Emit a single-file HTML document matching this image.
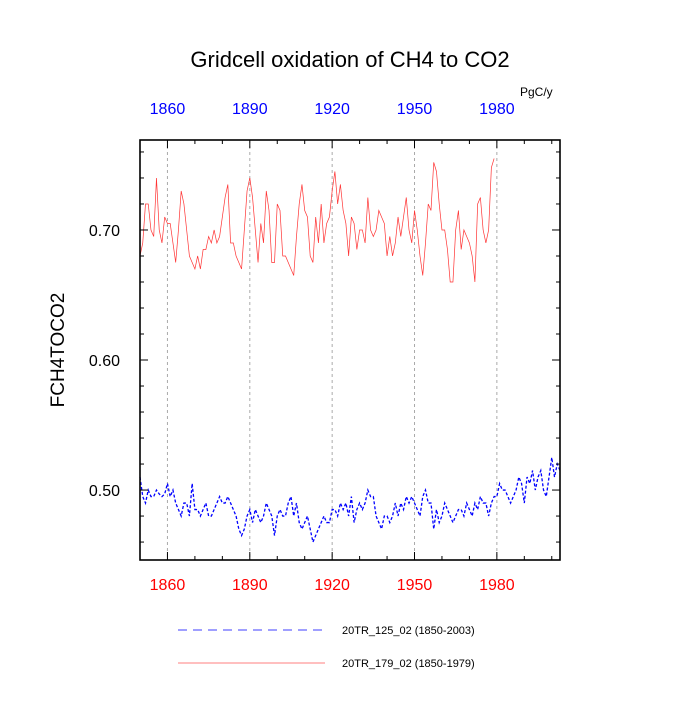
<!DOCTYPE html>
<html><head><meta charset="utf-8"><style>
body{margin:0;background:#fff;font-family:"Liberation Sans",sans-serif}
</style></head><body>
<svg id="c" width="700" height="700" xmlns="http://www.w3.org/2000/svg" font-family="Liberation Sans, sans-serif">
<text x="350" y="67" text-anchor="middle" font-size="22">Gridcell oxidation of CH4 to CO2</text>
<text x="520" y="96" font-size="12">PgC/y</text>
<text transform="translate(64,350) rotate(-90)" text-anchor="middle" font-size="19">FCH4TOCO2</text>
<g id="grid"></g><g id="series"></g><g id="axes"></g>
<g>
<line x1="178" y1="630" x2="325" y2="630" stroke="#00f" stroke-width="0.8" stroke-dasharray="9,6"/>
<text x="342" y="634" font-size="11">20TR_125_02 (1850-2003)</text>
<line x1="178" y1="663" x2="325" y2="663" stroke="#f00" stroke-width="0.6"/>
<text x="342" y="667" font-size="11">20TR_179_02 (1850-1979)</text>
</g>
</svg>
<script>
const startYear=1850;
const redValues=[0.68,0.69,0.72,0.72,0.70,0.695,0.74,0.70,0.69,0.71,
0.705,0.705,0.69,0.675,0.70,0.73,0.72,0.70,0.68,0.675,
0.67,0.68,0.67,0.685,0.685,0.695,0.69,0.70,0.69,0.695,
0.71,0.725,0.735,0.69,0.69,0.68,0.675,0.67,0.70,0.73,
0.74,0.725,0.70,0.675,0.705,0.69,0.73,0.715,0.675,0.675,
0.72,0.715,0.68,0.68,0.675,0.67,0.665,0.695,0.72,0.735,
0.715,0.71,0.68,0.675,0.71,0.69,0.72,0.69,0.705,0.71,
0.73,0.745,0.72,0.735,0.715,0.705,0.68,0.71,0.705,0.685,
0.70,0.70,0.69,0.725,0.70,0.695,0.70,0.715,0.71,0.705,
0.68,0.695,0.68,0.69,0.71,0.695,0.71,0.725,0.70,0.69,
0.715,0.70,0.68,0.665,0.69,0.72,0.715,0.752,0.745,0.72,
0.70,0.70,0.685,0.66,0.66,0.70,0.715,0.685,0.70,0.695,
0.69,0.68,0.66,0.72,0.725,0.70,0.69,0.70,0.748,0.755];
const blueValues=[.51,.495,.49,.50,.495,.495,.50,.497,.495,.497,
.505,.495,.50,.49,.485,.48,.49,.49,.48,.505,
.485,.485,.48,.485,.49,.48,.48,.485,.49,.495,
.49,.49,.495,.49,.485,.48,.47,.465,.47,.48,
.485,.475,.485,.48,.475,.48,.49,.485,.48,.465,
.48,.485,.48,.48,.49,.495,.48,.49,.475,.47,
.475,.48,.47,.46,.465,.47,.475,.48,.475,.475,
.485,.485,.48,.49,.485,.49,.48,.495,.475,.485,
.49,.485,.49,.50,.495,.495,.48,.475,.47,.48,
.48,.475,.48,.49,.48,.49,.485,.495,.49,.495,
.49,.485,.48,.495,.50,.49,.49,.47,.485,.475,
.48,.49,.485,.48,.475,.48,.485,.485,.48,.49,
.485,.48,.49,.485,.495,.49,.49,.48,.49,.495,
.495,.505,.50,.50,.495,.49,.495,.50,.51,.505,
.49,.51,.505,.515,.50,.51,.515,.50,.495,.51,
.525,.51,.52,.515];
const xTickLabels=[1860,1890,1920,1950,1980];
const yTickLabels=[0.50,0.60,0.70];
const L=140,R=560,T=140,B=560,x0=1850,x1=2003,y0=0.4462,y1=0.7692;
const X=v=>L+(v-x0)/(x1-x0)*(R-L), Y=v=>B-(v-y0)/(y1-y0)*(B-T);
const NS="http://www.w3.org/2000/svg";
function mk(t,a,p){const e=document.createElementNS(NS,t);for(const k in a)e.setAttribute(k,a[k]);p.appendChild(e);return e;}
const grid=document.getElementById('grid'),ser=document.getElementById('series'),ax=document.getElementById('axes');
xTickLabels.forEach(v=>{
 const g=mk('line',{x1:X(v),x2:X(v),y1:T,y2:B,stroke:'#aaa','stroke-dasharray':'3,3','stroke-width':1},grid);
 
 
 const tb=mk('text',{x:X(v),y:B+30,'text-anchor':'middle','font-size':16,fill:'#f00'},ax);tb.textContent=v;
 
 
 const tt=mk('text',{x:X(v),y:T-26,'text-anchor':'middle','font-size':16,fill:'#00f'},ax);tt.textContent=v;
 
 
});
function line(vals,color,dash,name){
 const p=mk('polyline',{points:vals.map((v,i)=>X(startYear+i)+','+Y(v)).join(' '),fill:'none',stroke:color,'stroke-width':dash?1.3:0.7},ser);
 if(dash)p.setAttribute('stroke-dasharray',dash);
 
 
}
line(redValues,'#f33',null,'series-red');
line(blueValues,'#00f','3,2','series-blue');
mk('rect',{x:L,y:T,width:R-L,height:B-T,fill:'none',stroke:'#000','stroke-width':1.6},ax);
for(let yr=1850;yr<=2003;yr+=10){const maj=(yr-1860)%30===0;const l=maj?8:4;
 mk('line',{x1:X(yr),x2:X(yr),y1:B,y2:B-l,stroke:'#000'},ax);mk('line',{x1:X(yr),x2:X(yr),y1:T,y2:T+l,stroke:'#000'},ax);}
for(let k=23;k<=38;k++){const v=k*0.02;const maj=(k%5===0);const l=maj?8:4;
 mk('line',{x1:L,x2:L+l,y1:Y(v),y2:Y(v),stroke:'#000'},ax);mk('line',{x1:R,x2:R-l,y1:Y(v),y2:Y(v),stroke:'#000'},ax);}
yTickLabels.forEach(v=>{const t=mk('text',{x:L-20,y:Y(v)+6,'text-anchor':'end','font-size':16},ax);t.textContent=v.toFixed(2);
 
 });
</script>
</body></html>
